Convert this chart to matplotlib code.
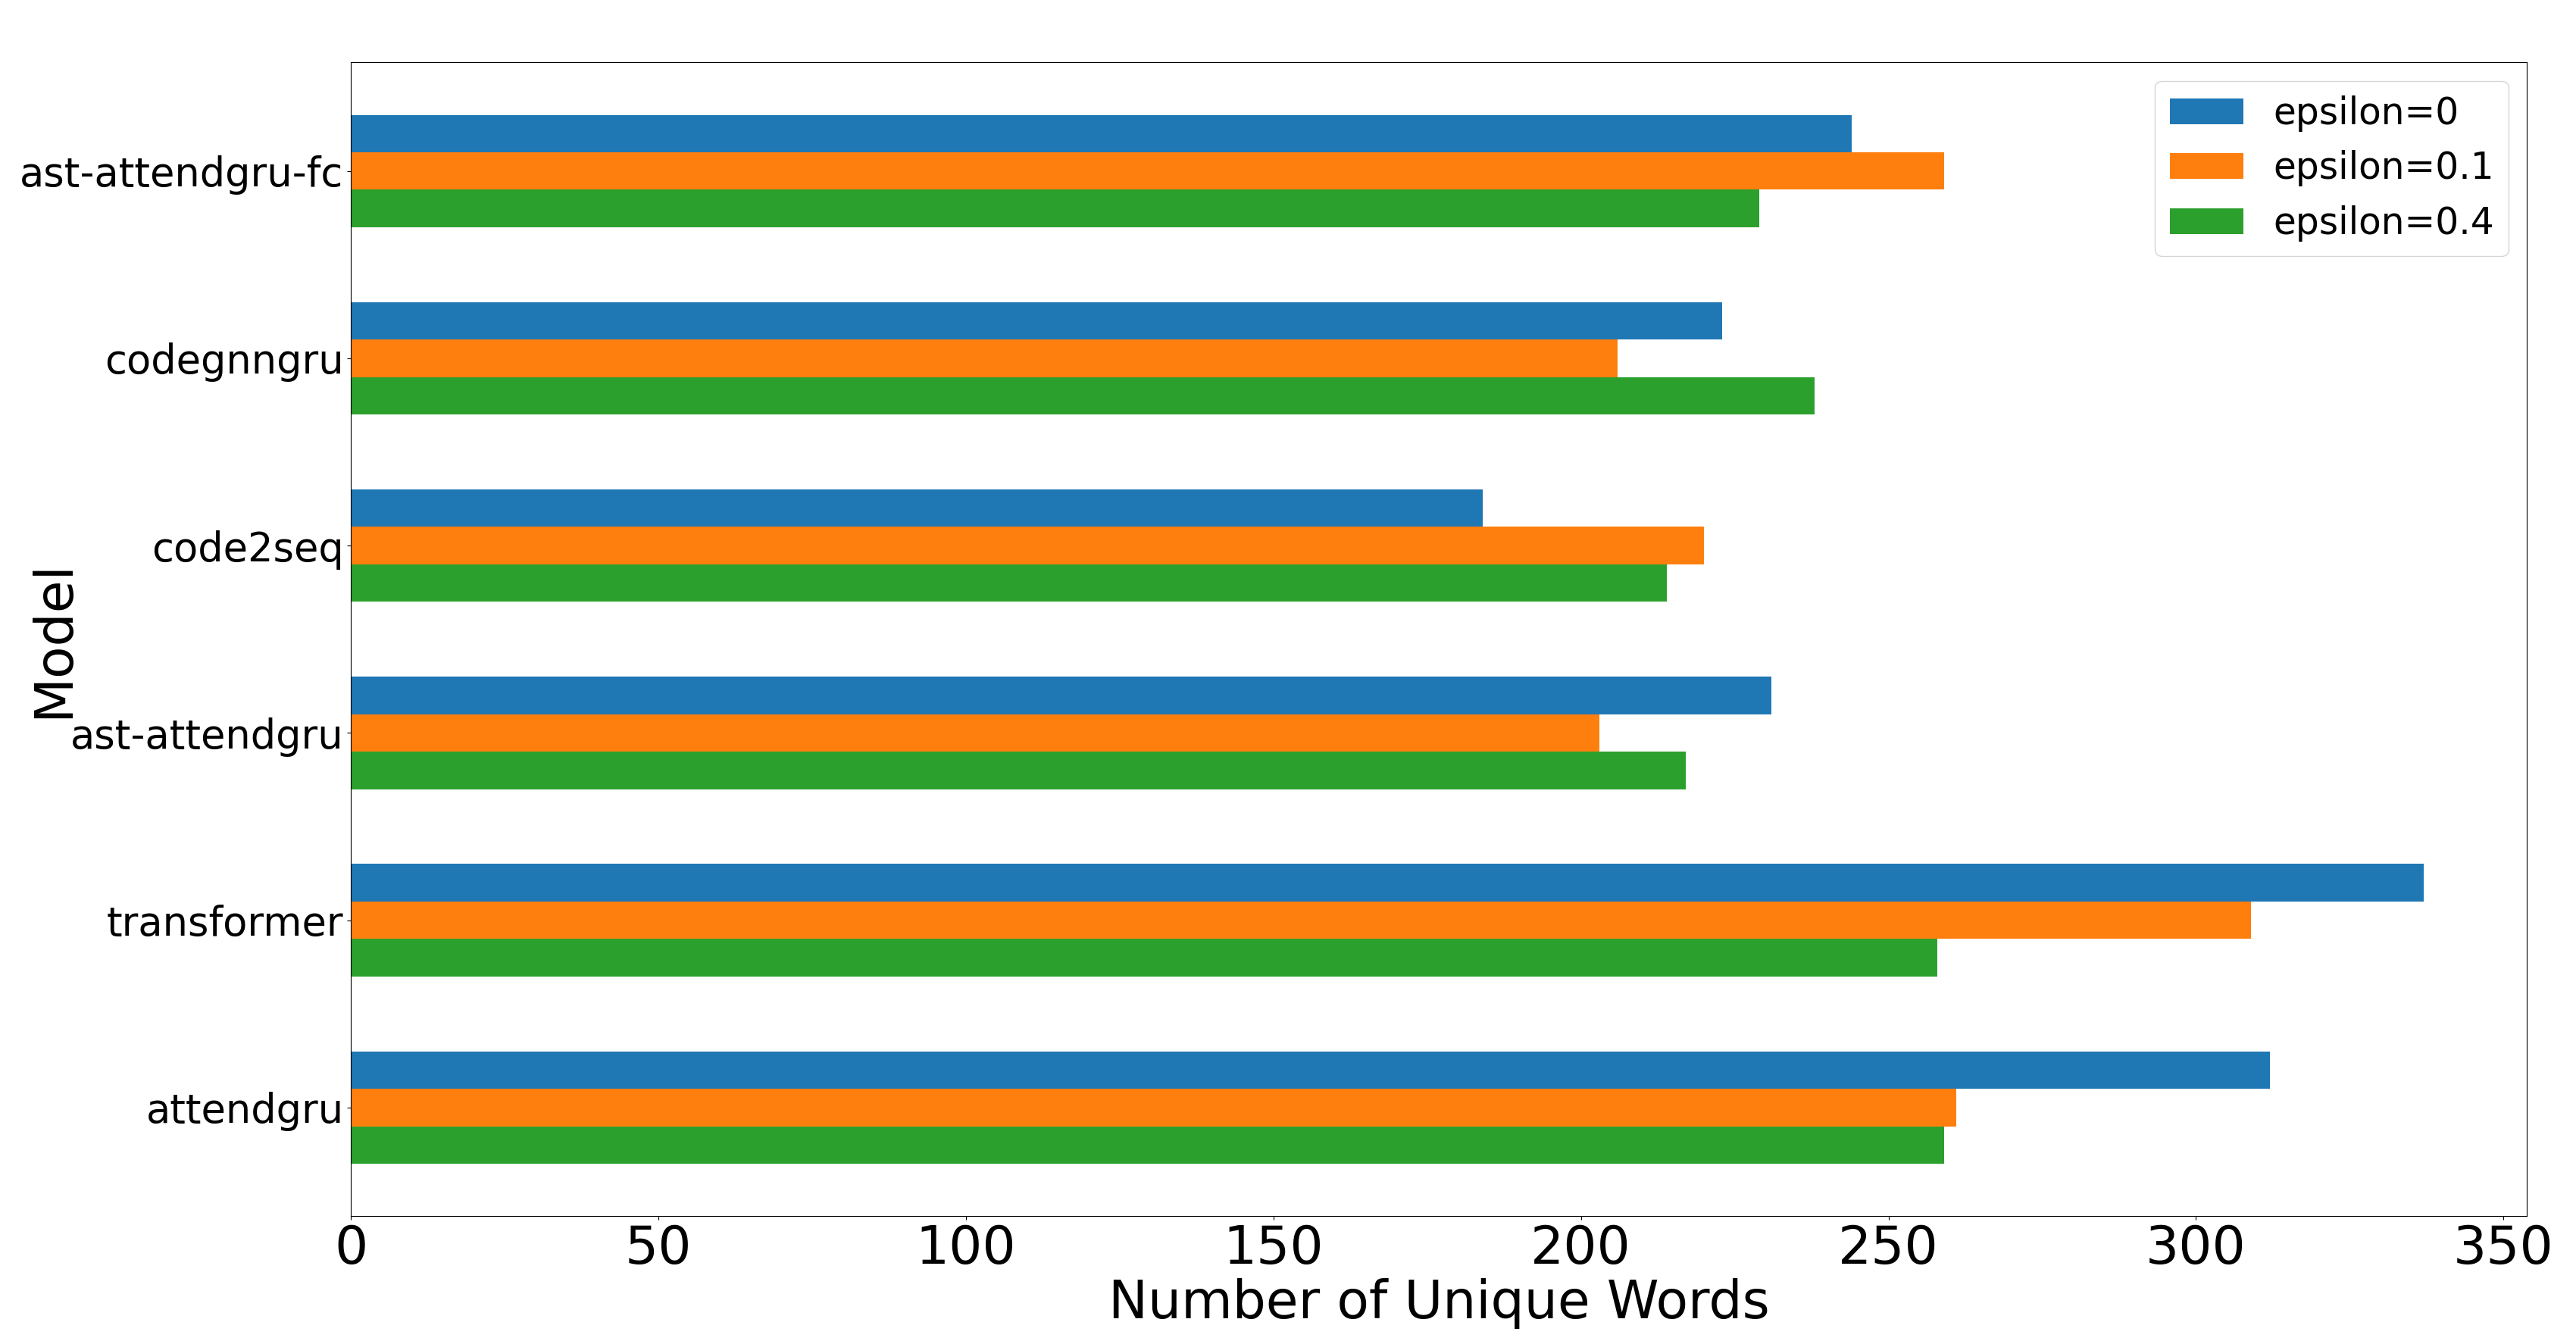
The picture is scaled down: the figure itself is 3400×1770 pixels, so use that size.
import numpy as np
import matplotlib
matplotlib.use("Agg")
import matplotlib.pyplot as plt

# Unique-word counts per model
models = ["attendgru", "transformer", "ast-attendgru", "code2seq",
          "codegnngru", "ast-attendgru-fc"]
eps_0 = [312, 337, 231, 184, 223, 244]
eps_01 = [261, 309, 203, 220, 206, 259]
eps_04 = [259, 258, 217, 214, 238, 229]
series_labels = ["epsilon=0", "epsilon=0.1", "epsilon=0.4"]

fig, ax = plt.subplots(figsize=(34, 17.7), dpi=100)

y = np.arange(len(models))
h = 0.2
ax.barh(y + h, eps_0, height=h, color="#1f77b4", label=series_labels[0])
ax.barh(y, eps_01, height=h, color="#ff7f0e", label=series_labels[1])
ax.barh(y - h, eps_04, height=h, color="#2ca02c", label=series_labels[2])

ax.set_yticks(y)
ax.set_yticklabels(models, fontsize=38)
ax.tick_params(axis="x", labelsize=50)
ax.set_xlabel("Number of Unique Words", fontsize=50)
ax.set_ylabel("Model", fontsize=50)
# label sits over the tick-label column, as in the original
ax.yaxis.set_label_coords(-0.125, 0.5)
ax.set_xticks(np.arange(0, 351, 50))

ax.legend(loc="upper right", fontsize=35)

plt.subplots_adjust(left=0.1363, right=0.981, top=0.9535, bottom=0.0931)
plt.savefig("out.png", dpi=100)
plt.close()
